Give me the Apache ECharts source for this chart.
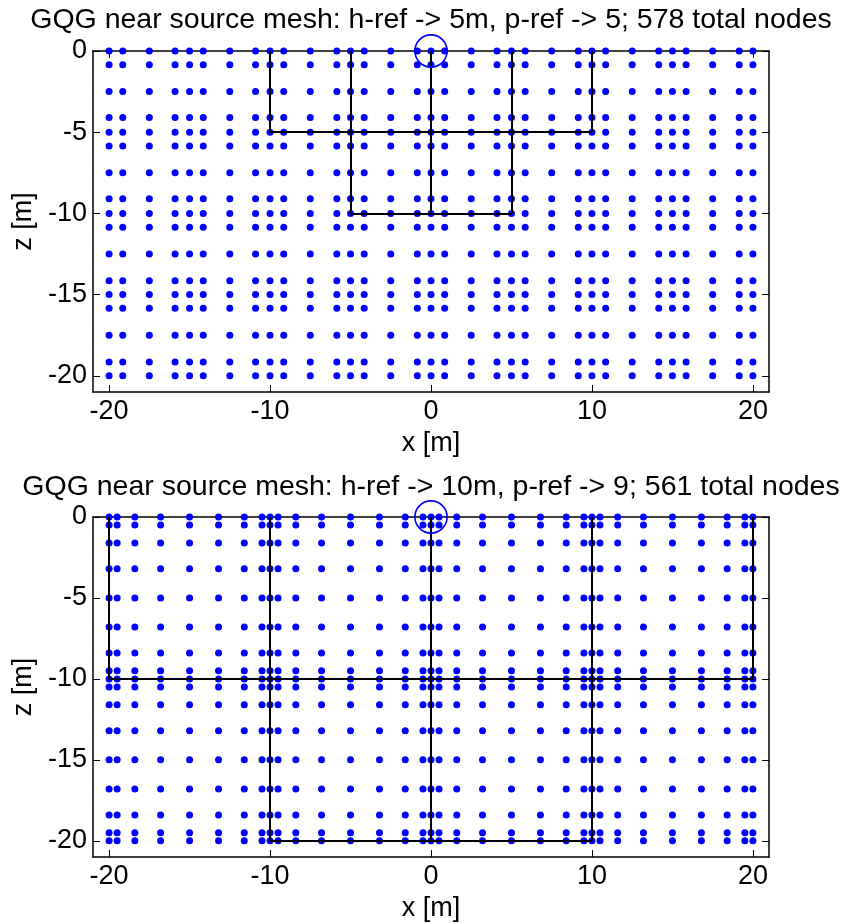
<!DOCTYPE html>
<html>
<head>
<meta charset="utf-8">
<script src="https://cdn.jsdelivr.net/npm/echarts@6/dist/echarts.min.js"></script>
<style>html,body{margin:0;padding:0;background:#fff;}#c{width:844px;height:923px;}</style>
</head>
<body>
<div id="c"></div>
<script>
// ---- data ----
var titleTop = 'GQG near source mesh: h-ref -> 5m, p-ref -> 5; 578 total nodes';
var titleBottom = 'GQG near source mesh: h-ref -> 10m, p-ref -> 9; 561 total nodes';
var xTicks = [-20, -10, 0, 10, 20];
var zTicks = [-20, -15, -10, -5, 0];

// node columns/rows, top panel
var topX = [-20, -19.15, -17.5, -15.9, -15, -14.15, -12.5, -10.9, -10, -9.15, -7.5, -5.85, -5, -4.15, -2.5, -0.85, 0,
            0.85, 2.5, 4.1, 5, 5.85, 7.5, 9.15, 10, 10.85, 12.5, 14.15, 15, 15.85, 17.5, 19.15, 20];
var topZ = [0, -0.85, -2.5, -4.1, -5, -5.85, -7.5, -9.1, -10, -10.85, -12.5, -14.15, -15, -15.85, -17.5, -19.15, -20];
// node columns/rows, bottom panel
var botX = [-20, -19.5, -18.4, -16.8, -15, -13.2, -11.6, -10.5, -10, -9.5, -8.4, -6.8, -5, -3.2, -1.6, -0.5, 0,
            0.5, 1.6, 3.2, 5, 6.8, 8.4, 9.5, 10, 10.5, 11.6, 13.2, 15, 16.8, 18.4, 19.5, 20];
var botZ = [0, -0.5, -1.6, -3.2, -5, -6.8, -8.4, -9.5, -10, -10.5, -11.6, -13.2, -15, -16.8, -18.4, -19.5, -20];

// element boundary segments [x1, z1, x2, z2]
var topMesh = [[-10, 0, -10, -5], [-10, -5, 10, -5], [10, -5, 10, 0],
               [-5, 0, -5, -10], [-5, -10, 5, -10], [5, -10, 5, 0], [0, 0, 0, -10]];
var botMesh = [[-20, 0, -20, -10], [20, 0, 20, -10], [-20, -10, 20, -10],
               [-10, 0, -10, -20], [10, 0, 10, -20], [0, 0, 0, -20], [-10, -20, 10, -20]];
// source marker [x, z, radius]
var source = [[0, 0, 1]];

// ---- build chart ----
var FONT = '"Liberation Sans", Arial, sans-serif';
function grid(xs, zs) {
  var pts = [];
  zs.forEach(function (z) { xs.forEach(function (x) { pts.push([x, z]); }); });
  return pts;
}
function segs(m) {
  return m.map(function (s) { return { coords: [[s[0], s[1]], [s[2], s[3]]] }; });
}
var grids = [
  { left: 93, top: 51, width: 676, height: 341 },
  { left: 93, top: 517, width: 676, height: 341 }
];
var xAxes = [], yAxes = [];
[0, 1].forEach(function (g) {
  var axLine = { show: true, onZero: false, lineStyle: { color: '#000', width: 1.5 } };
  var tick = { show: true, inside: true, length: 7, lineStyle: { color: '#000', width: 1 } };
  xAxes.push({
    gridIndex: g, type: 'value', min: -21, max: 21, position: 'bottom',
    axisLine: axLine, axisTick: Object.assign({ customValues: xTicks }, tick),
    axisLabel: { customValues: xTicks, color: '#000', fontSize: 27, fontFamily: FONT, margin: 6 },
    splitLine: { show: false },
    name: 'x [m]', nameLocation: 'middle', nameGap: 38,
    nameTextStyle: { color: '#000', fontSize: 27, fontFamily: FONT }
  });
  xAxes.push({
    gridIndex: g, type: 'value', min: -21, max: 21, position: 'top',
    axisLine: axLine, axisTick: Object.assign({ customValues: xTicks }, tick),
    axisLabel: { show: false }, splitLine: { show: false }
  });
  yAxes.push({
    gridIndex: g, type: 'value', min: -21, max: 0, position: 'left',
    axisLine: axLine, axisTick: Object.assign({ customValues: zTicks }, tick),
    axisLabel: { customValues: zTicks, color: '#000', fontSize: 27, fontFamily: FONT, margin: 6 },
    splitLine: { show: false },
    name: 'z [m]', nameLocation: 'middle', nameGap: 53, nameRotate: 90,
    nameTextStyle: { color: '#000', fontSize: 27, fontFamily: FONT }
  });
  yAxes.push({
    gridIndex: g, type: 'value', min: -21, max: 0, position: 'right',
    axisLine: axLine, axisTick: Object.assign({ customValues: zTicks }, tick),
    axisLabel: { show: false }, splitLine: { show: false }
  });
});

function circleItem(params, api) {
  var c = api.coord([api.value(0), api.value(1)]);
  var s = api.size([api.value(2), api.value(2)]);
  return { type: 'circle', shape: { cx: c[0], cy: c[1], r: s[0] },
           style: { fill: 'none', stroke: '#0000ff', lineWidth: 1.6 } };
}
var series = [];
[[topX, topZ, topMesh], [botX, botZ, botMesh]].forEach(function (d, g) {
  series.push({
    type: 'scatter', xAxisIndex: 2 * g, yAxisIndex: 2 * g, data: grid(d[0], d[1]),
    symbol: 'circle', symbolSize: 7, itemStyle: { color: '#0000ff', opacity: 1 }, z: 2, silent: true
  });
  series.push({
    type: 'lines', coordinateSystem: 'cartesian2d', xAxisIndex: 2 * g, yAxisIndex: 2 * g,
    data: segs(d[2]), lineStyle: { color: '#000', width: 2, opacity: 1 }, z: 3, silent: true
  });
  series.push({
    type: 'custom', xAxisIndex: 2 * g, yAxisIndex: 2 * g, data: source,
    renderItem: circleItem, clip: false, z: 4, silent: true
  });
});

var chart = echarts.init(document.getElementById('c'), null, { renderer: 'canvas' });
chart.setOption({
  animation: false,
  backgroundColor: '#fff',
  grid: grids,
  xAxis: xAxes,
  yAxis: yAxes,
  series: series,
  graphic: [
    { type: 'text', x: 431, y: 20, style: { text: titleTop, font: '28.5px ' + FONT, fill: '#000', align: 'center', verticalAlign: 'middle' } },
    { type: 'text', x: 431, y: 487, style: { text: titleBottom, font: '28.5px ' + FONT, fill: '#000', align: 'center', verticalAlign: 'middle' } }
  ]
});
</script>
</body>
</html>
